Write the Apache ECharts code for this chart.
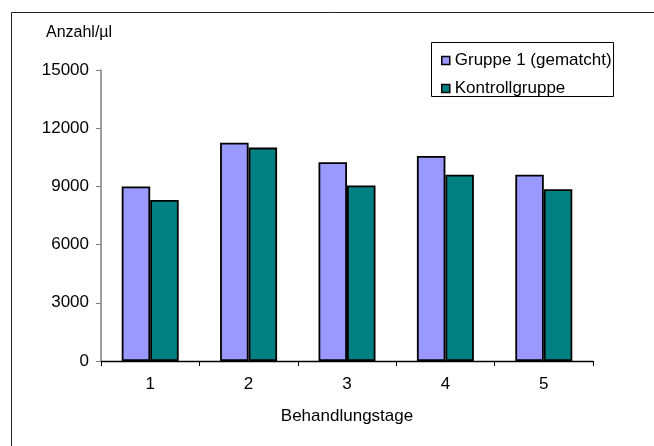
<!DOCTYPE html>
<html>
<head>
<meta charset="utf-8">
<style>
  html, body { margin: 0; padding: 0; background: #fff; }
  #chart { width: 654px; height: 446px; }
</style>
<script src="https://cdn.jsdelivr.net/npm/echarts@6/dist/echarts.min.js"></script>
</head>
<body>
<div id="chart"></div>
<script>
// Behandlungstage und mittlere Zellzahlen je Gruppe
const categories = ['1', '2', '3', '4', '5'];
const gruppe1 = [9000, 11250, 10250, 10570, 9600];
const kontrolle = [8300, 11000, 9050, 9600, 8850];
const seriesNames = ['Gruppe 1 (gematcht)', 'Kontrollgruppe'];
const yTicks = { min: 0, max: 15000, interval: 3000 };

const FONT = "'Liberation Sans', Arial, sans-serif";
const FS = 17;
const chart = echarts.init(document.getElementById('chart'), null, { renderer: 'canvas' });

const barStyle = (color) => ({ color: color, borderColor: '#000', borderWidth: 1.8 });

chart.setOption({
  animation: false,
  backgroundColor: '#fff',
  textStyle: { fontFamily: FONT, color: '#000' },
  grid: { left: 101, right: 61, top: 70, bottom: 85, containLabel: false },
  xAxis: {
    type: 'category',
    data: categories,
    name: 'Behandlungstage',
    nameLocation: 'middle',
    nameGap: 47,
    nameTextStyle: { fontFamily: FONT, fontSize: FS, color: '#000' },
    axisLine: { lineStyle: { color: '#000', width: 1.3 } },
    axisTick: { show: true, inside: false, length: 5, lineStyle: { color: '#000' } },
    axisLabel: { fontFamily: FONT, fontSize: FS, color: '#000', margin: 15 },
    splitLine: { show: false }
  },
  yAxis: {
    type: 'value',
    min: yTicks.min,
    max: yTicks.max,
    interval: yTicks.interval,
    axisLine: { show: true, lineStyle: { color: '#808080', width: 1.5 } },
    axisTick: { show: true, inside: false, length: 5, lineStyle: { color: '#808080' } },
    axisLabel: { fontFamily: FONT, fontSize: FS, color: '#000', margin: 12,
                 formatter: (v) => String(v) },
    splitLine: { show: false }
  },
  legend: {
    orient: 'vertical',
    left: 441,
    top: 52,
    padding: 0,
    itemWidth: 8,
    itemHeight: 8,
    itemGap: 11,
    icon: 'rect',
    textStyle: { fontFamily: FONT, fontSize: FS, color: '#000' },
    data: seriesNames.map(n => ({ name: n, itemStyle: { borderColor: '#000', borderWidth: 1.5 } }))
  },
  graphic: [
    { type: 'rect', shape: { x: 11.5, y: 12.5, width: 700, height: 500 },
      style: { fill: 'none', stroke: '#222', lineWidth: 1 }, silent: true },
    { type: 'rect', shape: { x: 431.5, y: 42.5, width: 182, height: 54 },
      style: { fill: 'none', stroke: '#000', lineWidth: 1 }, silent: true, z: 10 },
    { type: 'text', x: 46, y: 33,
      style: { text: 'Anzahl/µl', font: '16px ' + FONT, fill: '#000', verticalAlign: 'middle' } }
  ],
  series: [
    { name: seriesNames[0], type: 'bar', data: gruppe1, barWidth: 28.5, barGap: '0%',
      itemStyle: barStyle('#9999FF') },
    { name: seriesNames[1], type: 'bar', data: kontrolle, barWidth: 28.5, barGap: '0%',
      itemStyle: barStyle('#008080') }
  ]
});
</script>
</body>
</html>
